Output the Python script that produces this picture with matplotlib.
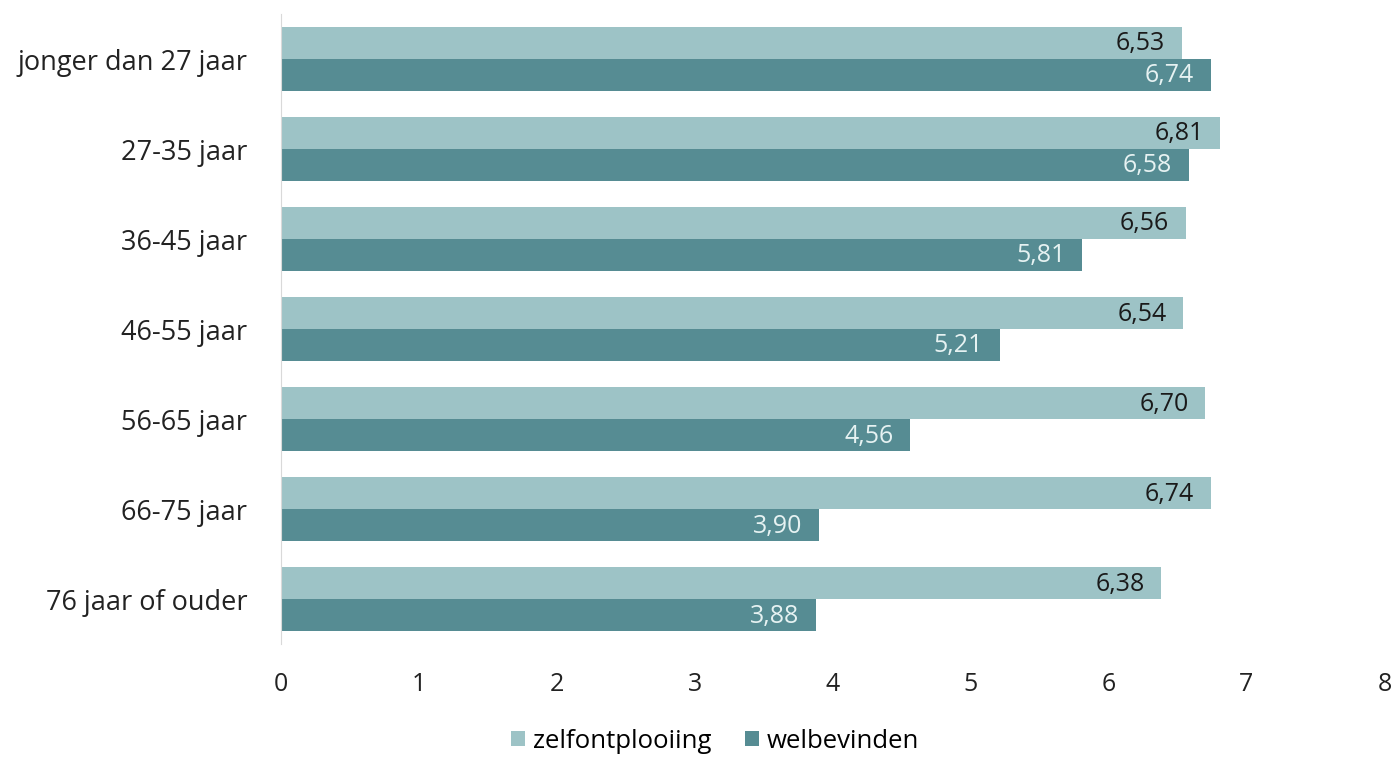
import numpy as np
import matplotlib.pyplot as plt

categories = ["jonger dan 27 jaar", "27-35 jaar", "36-45 jaar", "46-55 jaar",
              "56-65 jaar", "66-75 jaar", "76 jaar of ouder"]
zelfontplooiing = [6.53, 6.81, 6.56, 6.54, 6.70, 6.74, 6.38]
welbevinden = [6.74, 6.58, 5.81, 5.21, 4.56, 3.90, 3.88]
x_ticks = [0, 1, 2, 3, 4, 5, 6, 7, 8]

LIGHT = "#9DC3C6"
DARK = "#568C93"


def fmt(v):
    return f"{v:.2f}".replace(".", ",")


def main():
    plt.rcParams["font.family"] = ["Open Sans", "DejaVu Sans"]
    fig = plt.figure(figsize=(13.97, 7.57), dpi=100)
    ax = fig.add_axes([0.201, 0.149, 0.79, 0.8325])

    y = np.arange(len(categories))
    h = 0.355
    ax.barh(y - h / 2, zelfontplooiing, height=h, color=LIGHT, label="zelfontplooiing")
    ax.barh(y + h / 2, welbevinden, height=h, color=DARK, label="welbevinden")

    for yi, v in zip(y, zelfontplooiing):
        ax.text(v - 0.12, yi - h / 2 + 0.01, fmt(v), ha="right", va="center",
                fontsize=18, color="#1a1a1a")
    for yi, v in zip(y, welbevinden):
        ax.text(v - 0.12, yi + h / 2 + 0.01, fmt(v), ha="right", va="center",
                fontsize=18, color="#E6F2F2")

    ax.set_ylim(len(categories) - 0.5, -0.5)
    ax.set_yticks(y)
    ax.set_yticklabels(categories, fontsize=19.5, color="#222222")
    ax.set_xlim(0, 8)
    ax.set_xticks(x_ticks)
    ax.set_xticklabels([str(t) for t in x_ticks], fontsize=18, color="#222222")
    ax.tick_params(axis="both", length=0)
    ax.tick_params(axis="x", pad=20)
    ax.tick_params(axis="y", pad=24)

    for s in ["top", "right", "bottom"]:
        ax.spines[s].set_visible(False)
    ax.spines["left"].set_color("#D9D9D9")

    fig.legend(loc="lower center", bbox_to_anchor=(0.512, -0.026), ncol=2, frameon=False,
               fontsize=18.5, handlelength=0.55, handleheight=0.55, handletextpad=0.3,
               columnspacing=1.3)

    plt.savefig("out.png")


if __name__ == "__main__":
    main()
